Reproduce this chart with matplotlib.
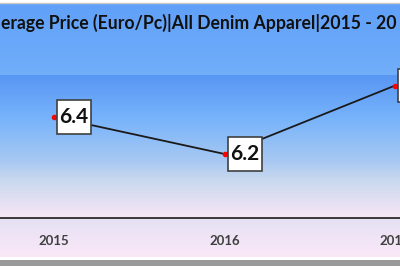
import numpy as np
import matplotlib.pyplot as plt
from matplotlib.colors import LinearSegmentedColormap
from matplotlib.lines import Line2D
from matplotlib.patches import Rectangle
from matplotlib.path import Path

# data
years = [2015, 2016, 2017]
avg_price = [6.4, 6.2, 6.57]
price_labels = ["6.4", "6.2", "6.6"]
title = "erage Price (Euro/Pc)|All Denim Apparel|2015 - 20"

W, H = 400, 266
plt.rcParams["font.family"] = ["Lato", "DejaVu Sans"]

fig = plt.figure(figsize=(W / 100, H / 100), dpi=100)
fig.patch.set_facecolor("white")


def fy(y):
    # pixel row (from top) -> figure fraction
    return 1 - y / H


def label_box(x0, y0, width, height, mutation_size):
    # square box, narrow at the sides and taller above/below
    padx, pady = 0.12 * mutation_size, 0.33 * mutation_size
    x0, x1 = x0 - padx, x0 + width + padx
    y0, y1 = y0 - pady, y0 + height + pady
    return Path([(x0, y0), (x1, y0), (x1, y1), (x0, y1), (x0, y0)], closed=True)


# chart area background gradient
bg = fig.add_axes([0, fy(257), 1, fy(4) - fy(257)], zorder=0)
bg_cmap = LinearSegmentedColormap.from_list(
    "chart", [(0, "#60a0f8"), (0.27, "#70aefa"), (0.84, "#e4e0f4"), (1, "#fae8f8")])
bg.imshow(np.linspace(0, 1, 256).reshape(-1, 1), aspect="auto", cmap=bg_cmap, extent=(0, 1, 0, 1))
bg.set_axis_off()

# outer frame bits
fig.add_artist(Line2D([0, 1], [fy(3), fy(3)], color="#c8c8c8", lw=1))
fig.add_artist(Rectangle((0, 0), 1, fy(260), transform=fig.transFigure, color="#9a9a9a", lw=0))

fig.text(0.002, fy(23), title, ha="left", va="center", fontsize=12.7, fontweight="bold", color="#111111")

# plot area
ax = fig.add_axes([0, fy(218), 1, fy(75) - fy(218)], zorder=1)
ax.patch.set_visible(False)
plot_cmap = LinearSegmentedColormap.from_list(
    "plot", [(0, "#5896f4"), (0.31, "#78b4fb"), (0.6, "#a8c8f2"), (0.73, "#c8d8ee"), (1, "#f8e6f6")])
ax.imshow(np.linspace(0, 1, 256).reshape(-1, 1), aspect="auto", cmap=plot_cmap,
          extent=(0, 1, 0, 1), transform=ax.transAxes, zorder=0)

ax.plot(years, avg_price, color="#1a1a1a", lw=1.3, marker="o", ms=3,
        mfc="red", mec="red", zorder=3)

for x, y, lab in zip(years, avg_price, price_labels):
    ax.annotate(lab, (x, y), xytext=(4.0, 0), textcoords="offset points",
                ha="left", va="center", fontsize=15, fontweight="bold", color="#111111",
                bbox=dict(boxstyle=label_box, fc="white", ec="#404040", lw=1.2),
                zorder=4, annotation_clip=False)

ax.set_xlim(2014.683, 2017.029)
ax.set_ylim(5.854, 6.627)
ax.set_xticks(years)
ax.set_xticklabels([str(y) for y in years], fontsize=9.5, fontweight="bold", color="#404040")
ax.tick_params(axis="x", length=0, pad=12.5)
ax.set_yticks([])
for side in ["top", "left", "right"]:
    ax.spines[side].set_visible(False)
ax.spines["bottom"].set_color("#1a1a1a")
ax.spines["bottom"].set_linewidth(1.2)

fig.savefig("out.png", dpi=100)
